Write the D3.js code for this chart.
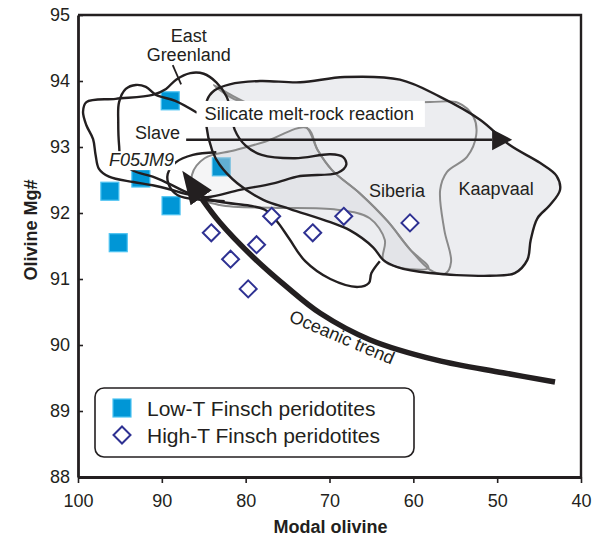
<!DOCTYPE html>
<html>
<head>
<meta charset="utf-8">
<script src="https://cdn.jsdelivr.net/npm/d3@7"></script>
<style>
  body { margin: 0; background: #fff; }
  svg { display: block; font-family: "Liberation Sans", Arial, Helvetica, sans-serif; }
</style>
</head>
<body>
<svg id="chart" width="592" height="537"></svg>
<script>
// Axis ticks
const olivineTicks = [100, 90, 80, 70, 60, 50, 40];
const mgTicks = [88, 89, 90, 91, 92, 93, 94, 95];

// Low-T Finsch peridotites (modal olivine %, olivine Mg#)
const lowTOlivine = [89.0, 96.2, 92.5, 88.9, 95.2, 82.9];
const lowTMg = [93.70, 92.33, 92.53, 92.11, 91.55, 92.70];

// High-T Finsch peridotites
const highTOlivine = [84.1, 81.8, 79.7, 78.7, 76.9, 72.0, 68.3, 60.4];
const highTMg = [91.70, 91.30, 90.85, 91.52, 91.95, 91.70, 91.95, 91.85];

// Cratonic fields, [modal olivine, Mg#] outlines
const kaapvaalField = [[84.6,93.71],[83.7,93.86],[81.9,93.95],[78.3,94.00],[73.5,93.98],[68.2,94.06],[61.6,94.02],[56.8,93.76],[52.0,93.41],[48.5,93.03],[44.9,92.76],[42.9,92.56],[42.5,92.35],[43.7,92.12],[45.2,91.92],[46.0,91.59],[46.4,91.29],[47.9,91.09],[50.9,91.05],[58.0,91.09],[61.9,91.18],[63.6,91.29],[64.8,91.48],[67.6,91.74],[69.9,91.86],[74.7,92.06],[77.9,92.20],[81.0,92.45],[83.1,92.73],[84.0,92.95],[84.7,93.33]];
const siberiaField = [[83.8,93.94],[80.9,93.70],[74.7,93.64],[66.4,93.64],[58.0,93.68],[54.7,93.67],[52.8,93.45],[52.5,93.18],[53.6,92.85],[56.0,92.62],[56.8,92.35],[56.3,91.74],[55.5,91.26],[56.2,91.08],[58.0,91.14],[60.4,91.45],[63.1,91.88],[66.4,92.30],[69.7,92.65],[71.4,92.95],[72.7,93.29],[75.9,93.52],[79.5,93.65],[81.9,93.80]];
const siberiaInnerField = [[84.9,92.83],[81.3,92.95],[77.7,93.08],[72.7,93.29],[71.4,92.95],[69.7,92.65],[66.4,92.30],[63.1,91.88],[60.4,91.45],[58.2,91.17],[61.9,91.18],[63.6,91.29],[63.4,91.59],[65.2,91.92],[69.1,92.05],[76.7,92.08],[83.1,92.12],[86.0,92.27],[86.4,92.58]];
const eastGreenlandField = [[99.0,93.68],[95.5,93.73],[91.1,93.79],[89.5,93.88],[88.3,94.02],[86.6,94.12],[85.0,94.11],[83.5,93.98],[82.3,93.77],[81.7,93.52],[81.3,93.26],[80.0,93.02],[78.1,92.88],[74.1,92.83],[69.9,92.89],[68.4,92.85],[68.0,92.73],[69.0,92.61],[73.5,92.56],[76.7,92.45],[80.7,92.35],[84.6,92.24],[87.2,92.29],[89.1,92.36],[91.1,92.42],[93.4,92.47],[96.3,92.55],[97.5,92.67],[97.9,92.88],[98.2,93.12],[99.0,93.33],[99.4,93.53]];
const slaveField = [[85.8,93.52],[88.4,93.70],[90.7,93.79],[91.9,93.91],[93.1,93.94],[94.3,93.88],[95.1,93.68],[95.2,93.38],[95.1,93.03],[94.8,92.77],[93.4,92.64],[91.1,92.55],[89.1,92.44],[86.6,92.29],[83.1,92.17],[79.5,92.11],[77.7,92.05],[76.3,91.88],[74.8,91.61],[72.9,91.27],[69.9,91.00],[66.6,90.88],[65.3,90.94],[65.0,91.09],[64.0,91.27]];
const sampleLoop = [[83.5,92.92],[86.3,92.88],[88.3,92.77],[89.3,92.59],[89.1,92.41],[88.1,92.27],[85.4,92.20],[82.5,92.18]];

// Trends
const oceanicTrend = [[43.1,89.44],[49.3,89.58],[57.2,89.77],[65.2,90.08],[71.1,90.48],[75.1,90.88],[79.1,91.33],[83.1,91.86],[85.3,92.23]];
const meltRockTrend = [[87.1,93.11],[50.6,93.11]];
const greenlandLeader = [[88.7,94.24],[87.7,93.95]];

const svg = d3.select("#chart");
const x = d3.scaleLinear().domain([100, 40]).range([78, 581]);
const y = d3.scaleLinear().domain([88, 95]).range([477, 15]);
const ink = "#231f20";

const defs = svg.append("defs");
defs.append("marker").attr("id", "headSmall")
  .attr("markerUnits", "userSpaceOnUse").attr("viewBox", "0 -12 22 24")
  .attr("markerWidth", 22).attr("markerHeight", 24).attr("refX", 0).attr("refY", 0)
  .attr("orient", "auto")
  .append("path").attr("d", "M0,-10.5L20,0L0,10.5Z").attr("fill", ink);
defs.append("marker").attr("id", "headBig")
  .attr("markerUnits", "userSpaceOnUse").attr("viewBox", "0 -14 36 28")
  .attr("markerWidth", 36).attr("markerHeight", 28).attr("refX", 0).attr("refY", 0)
  .attr("orient", "auto")
  .append("path").attr("d", "M0,-13L33,0L0,13Z").attr("fill", ink);

const closedLine = d3.line().x(d => x(d[0])).y(d => y(d[1])).curve(d3.curveCatmullRomClosed.alpha(0.5));
const openLine = d3.line().x(d => x(d[0])).y(d => y(d[1])).curve(d3.curveCatmullRom.alpha(0.5));
const straight = d3.line().x(d => x(d[0])).y(d => y(d[1]));

// Low-T samples sit beneath the field shading
const lowT = lowTOlivine.map((v, i) => ({ ol: v, mg: lowTMg[i] }));
const sq = 18;
svg.append("g").selectAll("rect").data(lowT).join("rect")
  .attr("x", d => x(d.ol) - sq / 2).attr("y", d => y(d.mg) - sq / 2)
  .attr("width", sq).attr("height", sq)
  .attr("fill", "#0096d6").attr("stroke", "#4cc3f2").attr("stroke-width", 1.2);

// Field shading
svg.append("path").attr("d", closedLine(kaapvaalField))
  .attr("fill", "#d5d8dd").attr("fill-opacity", 0.45).attr("stroke", "none");
svg.append("path").attr("d", closedLine(siberiaInnerField))
  .attr("fill", "#7c818c").attr("fill-opacity", 0.08).attr("stroke", "none");

// Grey outlines
const grey = "#8a8a8a";
svg.append("path").attr("d", closedLine(siberiaField)).attr("fill", "none").attr("stroke", grey).attr("stroke-width", 2);
svg.append("path").attr("d", closedLine(siberiaInnerField)).attr("fill", "none").attr("stroke", grey).attr("stroke-width", 2);

// Black outlines
svg.append("path").attr("d", closedLine(kaapvaalField)).attr("fill", "none").attr("stroke", ink).attr("stroke-width", 2.4);
svg.append("path").attr("d", closedLine(eastGreenlandField)).attr("fill", "none").attr("stroke", ink).attr("stroke-width", 2.4);
svg.append("path").attr("d", openLine(slaveField)).attr("fill", "none").attr("stroke", ink).attr("stroke-width", 2.4);
svg.append("path").attr("d", openLine(sampleLoop)).attr("fill", "none").attr("stroke", ink).attr("stroke-width", 2.4);
svg.append("path").attr("d", straight(greenlandLeader)).attr("fill", "none").attr("stroke", ink).attr("stroke-width", 1.8);

// Silicate melt-rock reaction arrow and its label box
svg.append("path").attr("d", straight(meltRockTrend)).attr("fill", "none")
  .attr("stroke", ink).attr("stroke-width", 2.6).attr("marker-end", "url(#headSmall)");

const labelG = svg.append("g");
const meltLabel = labelG.append("text").attr("x", x(84.9)).attr("y", y(93.41))
  .attr("font-size", 18.3).attr("fill", ink).text("Silicate melt-rock reaction");
const mb = meltLabel.node().getBBox();
labelG.insert("rect", "text").attr("x", mb.x - 8).attr("y", y(93.41) - 19)
  .attr("width", mb.width + 19).attr("height", 26).attr("fill", "#fff");

// Oceanic trend arrow
svg.append("path").attr("d", openLine(oceanicTrend)).attr("fill", "none")
  .attr("stroke", ink).attr("stroke-width", 5.5).attr("marker-end", "url(#headBig)");

// High-T samples
const highT = highTOlivine.map((v, i) => ({ ol: v, mg: highTMg[i] }));
const dh = 8.5;
svg.append("g").selectAll("path").data(highT).join("path")
  .attr("d", d => { const cx = x(d.ol), cy = y(d.mg);
    return `M${cx},${cy - dh}L${cx + dh},${cy}L${cx},${cy + dh}L${cx - dh},${cy}Z`; })
  .attr("fill", "#fff").attr("stroke", "#2e3192").attr("stroke-width", 2);

// Field names
const fieldLabels = [
  { text: "East", ol: 86.8, mg: 94.59, anchor: "middle" },
  { text: "Greenland", ol: 86.8, mg: 94.30, anchor: "middle" },
  { text: "Slave", ol: 93.2, mg: 93.12, anchor: "start" },
  { text: "Siberia", ol: 65.3, mg: 92.24, anchor: "start" },
  { text: "Kaapvaal", ol: 54.6, mg: 92.27, anchor: "start" }
];
svg.append("g").selectAll("text").data(fieldLabels).join("text")
  .attr("x", d => x(d.ol)).attr("y", d => y(d.mg))
  .attr("text-anchor", d => d.anchor).attr("font-size", 18).attr("fill", ink)
  .text(d => d.text);

// Sample name on a white ground
const sampleG = svg.append("g");
const sampleText = sampleG.append("text").attr("x", x(96.3)).attr("y", y(92.71))
  .attr("font-size", 18).attr("font-style", "italic").attr("fill", ink).text("F05JM9");
const sbb = sampleText.node().getBBox();
sampleG.insert("rect", "text").attr("x", sbb.x - 1).attr("y", sbb.y + 1)
  .attr("width", sbb.width + 2).attr("height", sbb.height - 1).attr("fill", "#fff");

// Oceanic trend label
svg.append("text")
  .attr("transform", `translate(${x(68.5)},${y(90.12)}) rotate(23)`)
  .attr("text-anchor", "middle").attr("dy", "0.35em")
  .attr("font-size", 18).attr("fill", ink).text("Oceanic trend");

// Axes
const xAxis = svg.append("g").attr("transform", `translate(0,${y(88)})`)
  .call(d3.axisBottom(x).tickValues(olivineTicks).tickSize(6).tickSizeOuter(0).tickPadding(11).tickFormat(d3.format("d")));
const yAxis = svg.append("g").attr("transform", `translate(${x(100)},0)`)
  .call(d3.axisLeft(y).tickValues(mgTicks).tickSize(-5).tickSizeOuter(0).tickPadding(8).tickFormat(d3.format("d")));
[xAxis, yAxis].forEach(g => {
  g.select(".domain").attr("stroke", ink).attr("stroke-width", 2.8);
  g.selectAll(".tick line").attr("stroke", ink).attr("stroke-width", 1.6);
  g.selectAll(".tick text").attr("font-size", 18).attr("fill", ink)
    .attr("font-family", "'Liberation Sans', Arial, sans-serif");
});
// Top and right frame
svg.append("path")
  .attr("d", `M${x(100)},${y(95)}H${x(40)}V${y(88)}`)
  .attr("fill", "none").attr("stroke", ink).attr("stroke-width", 2.4);

// Axis titles
svg.append("text").attr("x", (x(100) + x(40)) / 2 + 1).attr("y", 533)
  .attr("text-anchor", "middle").attr("font-size", 18).attr("font-weight", "bold")
  .attr("fill", ink).text("Modal olivine");
svg.append("text").attr("transform", `translate(37,${230}) rotate(-90)`)
  .attr("text-anchor", "middle").attr("font-size", 18).attr("font-weight", "bold")
  .attr("fill", ink).text("Olivine Mg#");

// Legend
const legend = svg.append("g");
legend.append("rect").attr("x", 95).attr("y", 388).attr("width", 319).attr("height", 69)
  .attr("rx", 9).attr("fill", "#fff").attr("stroke", ink).attr("stroke-width", 1.6);
legend.append("rect").attr("x", 122 - sq / 2).attr("y", 408 - sq / 2).attr("width", sq).attr("height", sq)
  .attr("fill", "#0096d6").attr("stroke", "#4cc3f2").attr("stroke-width", 1.2);
legend.append("path")
  .attr("d", `M122,${435 - dh}L${122 + dh},435L122,${435 + dh}L${122 - dh},435Z`)
  .attr("fill", "#fff").attr("stroke", "#2e3192").attr("stroke-width", 2);
legend.append("text").attr("x", 147).attr("y", 416).attr("font-size", 21).attr("fill", ink)
  .text("Low-T Finsch peridotites");
legend.append("text").attr("x", 147).attr("y", 443).attr("font-size", 21).attr("fill", ink)
  .text("High-T Finsch peridotites");
</script>
</body>
</html>
